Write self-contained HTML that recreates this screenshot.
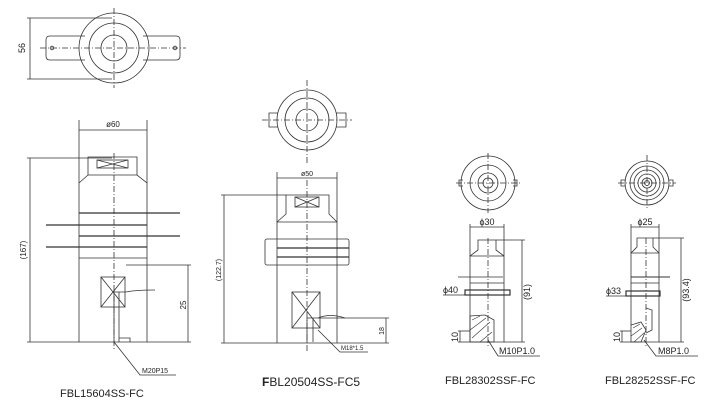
<!DOCTYPE html>
<html><head><meta charset="utf-8"><style>
html,body{margin:0;padding:0;background:#fff;}
svg{display:block;}
text{font-family:"Liberation Sans",sans-serif;fill:#222;}
</style></head><body>
<svg width="710" height="407" viewBox="0 0 710 407" xmlns="http://www.w3.org/2000/svg">
<g fill="none" stroke="#333" stroke-width="0.8">
<path d="M85,36 L50,36 Q46,36 46,40 L46,56 Q46,60 50,60 L85,60 M143,36 L176,36 Q180,36 180,40 L180,56 Q180,60 176,60 L143,60"/>
<circle cx="114" cy="48" r="35"/><circle cx="114" cy="48" r="25"/><circle cx="114" cy="48" r="13"/>
<circle cx="52" cy="48" r="1.8"/><circle cx="175" cy="48" r="1.8"/>
<line x1="40" y1="48" x2="186" y2="48" stroke-dasharray="6,2,1,2"/>
<line x1="114" y1="8" x2="114" y2="88" stroke-dasharray="6,2,1,2"/>
<line x1="30" y1="18" x2="30" y2="79"/><line x1="27" y1="18" x2="112" y2="18"/><line x1="27" y1="79" x2="112" y2="79"/>
<line x1="79" y1="120" x2="79" y2="183"/><line x1="147" y1="120" x2="147" y2="183"/>
<line x1="79" y1="130" x2="147" y2="130"/>
<path d="M88,157 L137,157 L137,175 L147,183 L147,342 L79,342 L79,183 L88,175 Z M88,175 L137,175"/>
<rect x="97" y="160" width="31" height="8"/><path d="M97,160 L128,168 M128,160 L97,168"/>
<line x1="79" y1="213" x2="180" y2="213" stroke-width="1.2"/>
<line x1="46" y1="225" x2="147" y2="225" stroke-width="1.2"/>
<line x1="79" y1="236" x2="180" y2="236" stroke-width="1.2"/>
<line x1="46" y1="247" x2="147" y2="247" stroke-width="1.2"/>
<line x1="79" y1="258" x2="147" y2="258"/>
<rect x="101" y="277" width="24" height="30"/><path d="M101,277 L125,307 M125,277 L101,307"/>
<path d="M114,290 L114,342 M119,292 L119,342 M114,292 L126,292 M119,338 L130,338 L130,342 M126,292 Q135,290 155,290"/>
<line x1="114" y1="153" x2="114" y2="350" stroke-dasharray="6,2,1,2"/>
<line x1="30" y1="158" x2="30" y2="342"/><line x1="27" y1="158" x2="112" y2="158"/><line x1="27" y1="342" x2="79" y2="342"/>
<line x1="188" y1="265" x2="188" y2="342"/><line x1="126" y1="265" x2="191" y2="265"/><line x1="147" y1="342" x2="191" y2="342"/>
<path d="M114,342 L140,375 L176,375"/>
<circle cx="307" cy="120" r="30"/><circle cx="307" cy="120" r="22"/><circle cx="307" cy="120" r="11"/>
<path d="M278,113 L269,113 L269,127 L278,127 M336,113 L346,113 L346,127 L336,127"/>
<line x1="262" y1="120" x2="352" y2="120" stroke-dasharray="6,2,1,2"/>
<line x1="307" y1="80" x2="307" y2="163" stroke-dasharray="6,2,1,2"/>
<line x1="277" y1="172" x2="277" y2="222"/><line x1="337" y1="172" x2="337" y2="222"/>
<line x1="277" y1="178" x2="337" y2="178"/>
<path d="M286,195 L329,195 L329,214 L337,222 L337,343 L277,343 L277,222 L286,214 Z M277,222 L337,222"/>
<rect x="295" y="197" width="24" height="10"/><path d="M295,197 L319,207 M319,197 L295,207"/>
<rect x="265" y="239" width="84" height="26" rx="2"/>
<line x1="277" y1="248" x2="349" y2="248" stroke-width="1.3"/><line x1="277" y1="257" x2="349" y2="257" stroke-width="1.3"/>
<rect x="292" y="292" width="28" height="36"/><path d="M292,292 L320,328 M320,292 L292,328"/>
<path d="M307,318 L307,342 M313,318 L313,342 M307,318 L318,318 M318,318 Q330,313 345,318"/>
<line x1="307" y1="180" x2="307" y2="352" stroke-dasharray="6,2,1,2"/>
<line x1="224" y1="195" x2="224" y2="343"/><line x1="221" y1="195" x2="286" y2="195"/><line x1="221" y1="343" x2="277" y2="343"/>
<line x1="386" y1="318" x2="386" y2="343"/><line x1="318" y1="318" x2="389" y2="318"/><line x1="337" y1="343" x2="389" y2="343"/>
<path d="M318,330 L340,352 L368,352"/>
<circle cx="488" cy="183" r="27"/><circle cx="488" cy="183" r="18"/><circle cx="488" cy="183" r="10"/><circle cx="488" cy="183" r="5"/>
<path d="M463,180 L459,180 L459,186 L463,186 M513,180 L517,180 L517,186 L513,186"/>
<line x1="456" y1="183" x2="520" y2="183" stroke-dasharray="6,2,1,2"/>
<line x1="488" y1="153" x2="488" y2="213" stroke-dasharray="6,2,1,2"/>
<line x1="470" y1="224" x2="470" y2="256"/><line x1="504" y1="224" x2="504" y2="256"/>
<line x1="470" y1="227" x2="504" y2="227"/>
<path d="M478,240 L496,240 L496,250 L504,256 L504,342 L470,342 L470,256 L478,250 Z"/>
<line x1="470" y1="256" x2="504" y2="256"/>
<line x1="458" y1="277" x2="503" y2="277"/><line x1="470" y1="283" x2="504" y2="283"/>
<rect x="465" y="290" width="45" height="5" stroke-width="1.2"/>
<line x1="443" y1="295" x2="465" y2="295"/>
<path d="M470,316 L485,315 L494,320 L494,342 L470,342 Z"/>
<path d="M472,320 L480,316 M470,330 L486,318 M472,338 L490,322 M480,342 L492,332" stroke-width="0.6"/>
<line x1="488" y1="238" x2="488" y2="346" stroke-dasharray="6,2,1,2"/>
<line x1="522" y1="240" x2="522" y2="342"/><line x1="496" y1="240" x2="525" y2="240"/><line x1="504" y1="342" x2="525" y2="342"/>
<line x1="460" y1="331" x2="460" y2="342"/><line x1="458" y1="331" x2="470" y2="331"/><line x1="458" y1="342" x2="470" y2="342"/>
<path d="M488,340 L498,356 L540,356"/>
<circle cx="647" cy="183" r="22"/><circle cx="647" cy="183" r="17"/><circle cx="647" cy="183" r="13"/><circle cx="647" cy="183" r="9"/><circle cx="647" cy="183" r="5"/><circle cx="647" cy="183" r="2.5"/>
<path d="M625,180 L621,180 L621,186 L625,186 M669,180 L673,180 L673,186 L669,186"/>
<line x1="618" y1="183" x2="676" y2="183" stroke-dasharray="6,2,1,2"/>
<line x1="647" y1="155" x2="647" y2="210" stroke-dasharray="6,2,1,2"/>
<line x1="631" y1="224" x2="631" y2="253"/><line x1="659" y1="224" x2="659" y2="253"/>
<line x1="631" y1="227" x2="659" y2="227"/>
<path d="M637,238 L653,238 L653,247 L659,253 L659,342 L631,342 L631,253 L637,247 Z"/>
<line x1="631" y1="253" x2="659" y2="253"/>
<line x1="631" y1="277" x2="670" y2="277" stroke-width="1.1"/><line x1="631" y1="283" x2="659" y2="283"/>
<rect x="626" y="291" width="34" height="5" stroke-width="1.2"/>
<line x1="606" y1="296" x2="626" y2="296"/>
<path d="M646,308 L652,310 L652,330 L646,333 M631,325 L641,322 L646,330 L641,342 L631,342"/>
<path d="M633,328 L640,324 M631,336 L642,328 M634,342 L644,333" stroke-width="0.6"/>
<line x1="646" y1="238" x2="646" y2="346" stroke-dasharray="6,2,1,2"/>
<line x1="681" y1="238" x2="681" y2="342"/><line x1="653" y1="238" x2="684" y2="238"/><line x1="659" y1="342" x2="684" y2="342"/>
<line x1="622" y1="331" x2="622" y2="342"/><line x1="620" y1="331" x2="631" y2="331"/><line x1="620" y1="342" x2="631" y2="342"/>
<path d="M644,340 L656,356 L698,356"/>
</g>
<g font-size="8">
<text transform="translate(25,48) rotate(-90)" text-anchor="middle" font-size="9">56</text>
<text x="113" y="127" text-anchor="middle">ø60</text>
<text transform="translate(26,250) rotate(-90)" text-anchor="middle">(167)</text>
<text transform="translate(186,305) rotate(-90)" text-anchor="middle">25</text>
<text x="142" y="373" font-size="7">M20P15</text>
<text x="307" y="176" text-anchor="middle" font-size="7">ø50</text>
<text transform="translate(221,270) rotate(-90)" text-anchor="middle" font-size="7">(122.7)</text>
<text transform="translate(384,331) rotate(-90)" text-anchor="middle" font-size="7">18</text>
<text x="341" y="350" font-size="6">M18*1.5</text>
<text x="487" y="225" text-anchor="middle" font-size="9">ϕ30</text>
<text x="443" y="293" font-size="9">ϕ40</text>
<text transform="translate(530,292) rotate(-90)" text-anchor="middle" font-size="9">(91)</text>
<text transform="translate(458,337) rotate(-90)" text-anchor="middle" font-size="9">10</text>
<text x="499" y="354" font-size="9">M10P1.0</text>
<text x="645" y="225" text-anchor="middle" font-size="9">ϕ25</text>
<text x="606" y="294" font-size="9">ϕ33</text>
<text transform="translate(689,290) rotate(-90)" text-anchor="middle" font-size="9">(93.4)</text>
<text transform="translate(620,337) rotate(-90)" text-anchor="middle" font-size="9">10</text>
<text x="658" y="354" font-size="9">M8P1.0</text>
</g>
<text x="60" y="397" font-size="11">FBL15604SS-FC</text>
<text x="262" y="386" font-size="12"><tspan font-weight="bold">F</tspan>BL20504SS-FC5</text>
<text x="445" y="384" font-size="11">FBL28302SSF-FC</text>
<text x="605" y="384" font-size="11">FBL28252SSF-FC</text>
</svg>
</body></html>
